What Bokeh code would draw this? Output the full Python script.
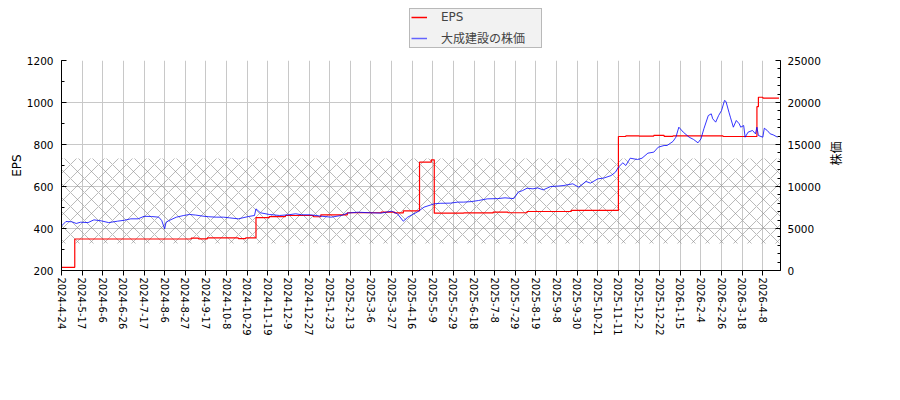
import math
from bokeh.plotting import figure
from bokeh.layouts import column
from bokeh.models import (Range1d, LinearAxis, FixedTicker, SingleIntervalTicker,
                          Legend, LegendItem)
from bokeh.embed import file_html
from bokeh.resources import INLINE

# ---- data (trading-day index based x axis) ----
tick_labels = ["2024-4-24", "2024-5-17", "2024-6-6", "2024-6-26", "2024-7-17", "2024-8-6",
               "2024-8-27", "2024-9-17", "2024-10-8", "2024-10-29", "2024-11-19", "2024-12-9",
               "2024-12-27", "2025-1-23", "2025-2-13", "2025-3-6", "2025-3-27", "2025-4-16",
               "2025-5-9", "2025-5-29", "2025-6-18", "2025-7-8", "2025-7-29", "2025-8-19",
               "2025-9-8", "2025-9-30", "2025-10-21", "2025-11-11", "2025-12-2", "2025-12-22",
               "2026-1-15", "2026-2-4", "2026-2-26", "2026-3-18", "2026-4-8"]
tick_step = 14
n_days = 489

eps_idx = [0, 9, 88, 93, 99, 120, 125, 132, 141, 152, 171, 176, 194, 217, 226, 232, 243, 251,
           253, 273, 293, 303, 316, 346, 378, 383, 392, 402, 409, 415, 449, 472, 473, 476, 487]
eps_val = [215, 350, 354, 351, 355, 352, 355, 452, 457, 462, 456, 465, 475, 478, 474, 484, 716, 727,
           473, 474, 478, 475, 481, 486, 838, 841, 840, 843, 839, 841, 838, 980, 1025, 1021, 1021]

price_idx = [0, 3, 7, 10, 13, 18, 22, 27, 32, 38,
             43, 47, 52, 56, 61, 66, 68, 70, 71, 73,
             78, 83, 87, 91, 96, 100, 105, 110, 114, 120,
             127, 131, 132, 135, 141, 148, 154, 159, 163, 169,
             176, 183, 190, 194, 201, 210, 217, 224, 228, 232,
             235, 242, 246, 253, 257, 264, 269, 273, 278, 283,
             289, 296, 301, 307, 310, 313, 316, 320, 323, 327,
             332, 337, 341, 347, 351, 356, 359, 364, 368, 373,
             376, 378, 381, 383, 386, 391, 394, 398, 402, 405,
             409, 411, 415, 417, 419, 422, 426, 429, 432, 434,
             436, 439, 441, 442, 444, 446, 448, 450, 451, 453,
             454, 456, 458, 460, 461, 463, 464, 466, 469, 471,
             472, 473, 476, 477, 479, 481, 483, 486]
price_val = [5300, 5830, 5800, 5600, 5750, 5700, 6030, 5910, 5700, 5870,
             5990, 6150, 6150, 6450, 6430, 6350, 5950, 4960, 5750, 5950,
             6350, 6550, 6670, 6600, 6470, 6400, 6350, 6350, 6270, 6150,
             6430, 6550, 7340, 6870, 6670, 6550, 6630, 6750, 6630, 6630,
             6470, 6350, 6550, 6830, 6940, 6870, 6830, 7060, 6750, 5870,
             6350, 7020, 7540, 7940, 8000, 8020, 8140, 8140, 8200, 8330,
             8530, 8560, 8650, 8560, 9330, 9520, 9800, 9720, 9840, 9600,
             10000, 10050, 10120, 10320, 9920, 10600, 10400, 10910, 11000, 11300,
             11710, 12300, 12820, 12500, 13370, 13210, 13370, 13970, 14090, 14680,
             14880, 14880, 15360, 15870, 17060, 16470, 15870, 15600, 15200, 15670,
             16870, 18450, 18650, 18060, 17660, 18450, 19050, 20240, 20120, 18850,
             18250, 17060, 17860, 17460, 17060, 17260, 15870, 16470, 16670, 16270,
             17060, 16070, 15870, 16940, 16670, 16270, 16150, 15870]

band_eps = [330, 733]
eps_range = [200, 1200]
price_range = [0, 25000]
series_names = ["EPS", "大成建設の株価"]
eps_color = "#ff0000"
price_color = "#0000ff"
price_legend_color = "#6464ff"

FONT = "DejaVu Sans, 'Noto Sans CJK JP'"

p = figure(frame_width=719, frame_height=210, output_backend="svg", toolbar_location=None,
           min_border_left=61, min_border_right=104, min_border_top=8, min_border_bottom=110,
           x_range=Range1d(0, n_days - 1), y_range=Range1d(*eps_range),
           background_fill_color="white", border_fill_color="white")
p.outline_line_color = None
p.extra_y_ranges = {"price": Range1d(*price_range)}

# hatched band
p.hstrip(y0=[band_eps[0]], y1=[band_eps[1]], fill_alpha=0, line_alpha=0,
         hatch_pattern="x", hatch_color="#8c8c8c", hatch_weight=0.6, hatch_scale=14)

r_eps = p.step(eps_idx, eps_val, mode="after", color=eps_color, line_width=1.2)
r_price = p.line(price_idx, price_val, color=price_color, line_width=0.8, y_range_name="price")

# x axis
xt = list(range(0, tick_step * len(tick_labels), tick_step))
p.xaxis.ticker = FixedTicker(ticks=xt, minor_ticks=[])
p.xaxis.major_label_overrides = {t: lab for t, lab in zip(xt, tick_labels)}
p.xaxis.major_label_orientation = "vertical"
p.xaxis.major_tick_in = 0
p.xaxis.major_tick_out = 5
p.xaxis.major_label_standoff = 2

# left axis
p.yaxis.ticker = SingleIntervalTicker(interval=200, num_minor_ticks=2)
p.yaxis.axis_label = "EPS"
p.yaxis.major_tick_in = 5
p.yaxis.major_tick_out = 0
p.yaxis.minor_tick_in = 3
p.yaxis.minor_tick_out = 0
p.yaxis.major_label_standoff = 8
p.yaxis.axis_label_standoff = 0

# right axis
ra = LinearAxis(y_range_name="price", ticker=SingleIntervalTicker(interval=5000, num_minor_ticks=5),
                axis_label="株価")
ra.major_tick_in = 5
ra.major_tick_out = 0
ra.minor_tick_in = 3
ra.minor_tick_out = 0
ra.major_label_standoff = 7
ra.axis_label_standoff = 13
ra.axis_label_orientation = math.pi / 2
p.add_layout(ra, "right")

for ax in p.xaxis + p.yaxis + [ra]:
    ax.axis_line_color = "black"
    ax.major_tick_line_color = "black"
    ax.minor_tick_line_color = "black"
    ax.major_label_text_font = FONT
    ax.major_label_text_font_size = "10.5px"
    ax.major_label_text_color = "black"
    ax.axis_label_text_font = FONT
    ax.axis_label_text_font_size = "12px"
    ax.axis_label_text_font_style = "normal"
    ax.axis_label_text_color = "black"
p.xaxis.major_label_text_font_size = "10px"

p.xgrid.grid_line_color = "#c8c8c8"
p.ygrid.grid_line_color = "#c8c8c8"
p.xgrid.ticker = p.xaxis[0].ticker

# header strip holding the legend (above the plot frame)
h = figure(frame_width=884, frame_height=52, output_backend="svg", toolbar_location=None,
           min_border=0, x_axis_type=None, y_axis_type=None,
           x_range=Range1d(0, 1), y_range=Range1d(0, 1),
           background_fill_color="white", border_fill_color="white")
h.outline_line_color = None
h.grid.visible = False
# proxies carrying the series styles for the legend (their data lies outside this strip's ranges)
k_eps = h.line(eps_idx, eps_val, color=eps_color, line_width=1.5)
k_price = h.line(price_idx, price_val, color=price_legend_color, line_width=1.5)

legend = Legend(items=[LegendItem(label=series_names[0], renderers=[k_eps]),
                       LegendItem(label=series_names[1], renderers=[k_price])],
                location=(409, 4), orientation="vertical")
legend.background_fill_color = "#f2f2f2"
legend.background_fill_alpha = 1
legend.border_line_color = "#808080"
legend.border_line_width = 1
legend.label_text_font = FONT
legend.label_text_font_size = "12px"
legend.glyph_width = 16
legend.glyph_height = 14
legend.label_height = 14
legend.label_width = 99
legend.label_standoff = 14
legend.padding = 1
legend.spacing = 5
legend.margin = 0
h.add_layout(legend, "center")

layout = column(h, p, spacing=0)
open("out.html", "w").write(file_html(layout, INLINE))
